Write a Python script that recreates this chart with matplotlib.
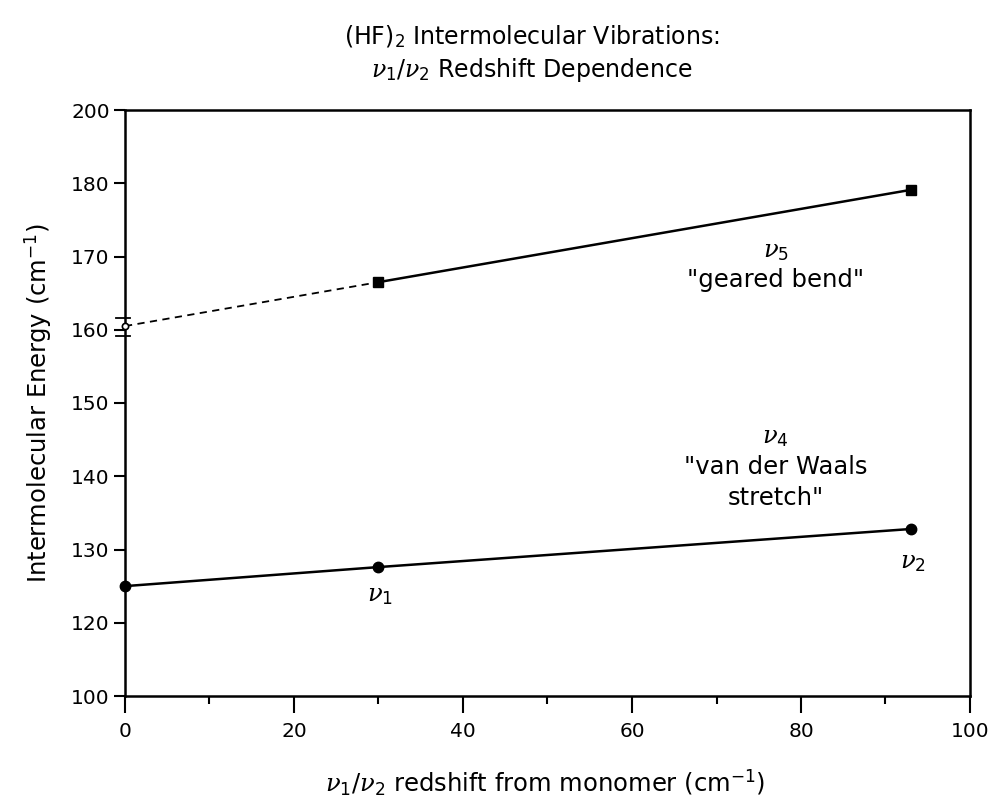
import matplotlib
matplotlib.use("Agg")
import matplotlib.pyplot as plt
from matplotlib.ticker import MultipleLocator

plt.rcParams['font.family'] = ['DejaVu Sans']
plt.rcParams['mathtext.fontset'] = 'custom'
plt.rcParams['mathtext.rm'] = 'DejaVu Sans'
plt.rcParams['mathtext.it'] = 'DejaVu Serif:italic'
plt.rcParams['mathtext.bf'] = 'DejaVu Sans:bold'

# Data
redshift = [0, 30, 93]
v4_energy = [125.0, 127.6, 132.8]
v5_redshift = [30, 93]
v5_energy = [166.5, 179.1]
v5_extrap_x = [0, 30]
v5_extrap_y = [160.5, 166.5]

# y axis (broken): plot coordinate positions and their labels
ytick_pos = [110, 120, 130, 140, 150, 160, 170, 180, 190]
ytick_lab = ['100', '120', '130', '140', '150', '160', '170', '180', '200']
xticks = [0, 20, 40, 60, 80, 100]

FS = 17.5
fig = plt.figure(figsize=(9.95, 8.06), dpi=100)
ax = fig.add_axes([125/995, 1-696/806, 845/995, 586/806])

ax.plot(redshift, v4_energy, '-', color='black', lw=1.8)
ax.plot(redshift, v4_energy, 'o', color='black', ms=7.5, clip_on=False, zorder=5)
ax.plot(v5_extrap_x, v5_extrap_y, '--', color='black', lw=1.3, dashes=(4, 3))
ax.plot(v5_redshift, v5_energy, '-', color='black', lw=1.8)
ax.plot(v5_redshift, v5_energy, 's', color='black', ms=7, clip_on=False, zorder=5)
ax.plot([0], [v5_extrap_y[0]], 'o', mfc='white', mec='black', ms=4.5, mew=1.2, clip_on=False, zorder=5)

# axis-break marks near 160
for yb in (161.6, 159.1):
    ax.plot([-1.1, 0.6], [yb, yb], color='black', lw=1.3, clip_on=False, zorder=4)

ax.set_xlim(0, 100)
ax.set_ylim(110, 190)
ax.set_yticks(ytick_pos)
ax.set_yticklabels(ytick_lab)
ax.set_xticks(xticks)
ax.xaxis.set_minor_locator(MultipleLocator(10))
ax.tick_params(axis='both', direction='out', labelsize=14.5, width=1.5, colors='black')
ax.tick_params(axis='y', length=8, pad=3)
ax.tick_params(axis='x', which='major', length=12, pad=7)
ax.tick_params(axis='x', which='minor', length=6, width=1.5, direction='out')
for s in ax.spines.values():
    s.set_linewidth(1.8)

ax.set_ylabel('Intermolecular Energy (cm$^{\\mathrm{-1}}$)', fontsize=FS, labelpad=12)
fig.text(545/995, 1-783/806, '$\\nu_{1}$/$\\nu_{2}$ redshift from monomer (cm$^{\\mathrm{-1}}$)',
         ha='center', va='center', fontsize=FS)

fig.text(532/995, 1-37/806, '(HF)$_{2}$ Intermolecular Vibrations:', ha='center', va='center', fontsize=17)
fig.text(532/995, 1-70/806, '$\\nu_{1}$/$\\nu_{2}$ Redshift Dependence', ha='center', va='center', fontsize=17)

ax.text(77, 170.7, '$\\nu_{5}$', ha='center', va='center', fontsize=FS)
ax.text(77, 166.8, '"geared bend"', ha='center', va='center', fontsize=FS)
ax.text(77, 145.3, '$\\nu_{4}$', ha='center', va='center', fontsize=FS)
ax.text(77, 141.2, '"van der Waals', ha='center', va='center', fontsize=FS)
ax.text(77, 137.0, 'stretch"', ha='center', va='center', fontsize=FS)
ax.text(30.2, 123.8, '$\\nu_{1}$', ha='center', va='center', fontsize=FS)
ax.text(93.3, 128.3, '$\\nu_{2}$', ha='center', va='center', fontsize=FS)

fig.savefig('out.png', dpi=100)
